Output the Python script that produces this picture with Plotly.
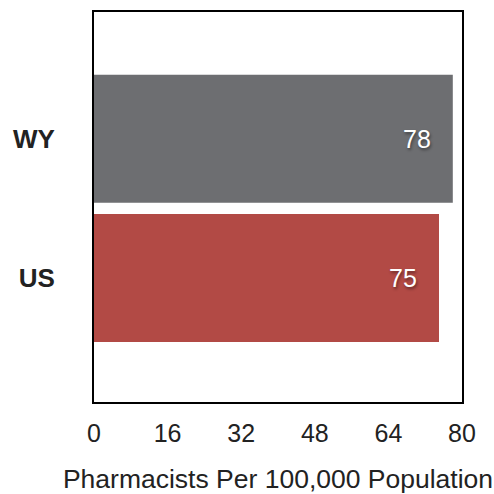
import plotly.graph_objects as go

categories = ["US", "WY"]
values = [75, 78]
bar_colors = ["#b24a45", "#6d6e71"]
x_ticks = [0, 16, 32, 48, 64, 80]
x_title = "Pharmacists Per 100,000 Population"

fig = go.Figure()
fig.add_trace(go.Bar(
    x=values,
    y=[0, 1],
    orientation="h",
    width=0.92,
    marker=dict(color=bar_colors, line=dict(width=0)),
    hoverinfo="skip",
))

for v, i in zip(values, [0, 1]):
    fig.add_annotation(
        x=v, y=i, text=str(v), showarrow=False,
        xanchor="right", xshift=-20,
        font=dict(family="Liberation Sans, Arial, sans-serif", size=25, color="white",
                  shadow="1px 2px 3px rgba(0,0,0,0.45)"),
    )

fig.update_layout(
    width=494, height=494,
    margin=dict(l=94, r=32, t=12, b=92, autoexpand=False),
    paper_bgcolor="white", plot_bgcolor="white",
    showlegend=False,
    font=dict(family="Liberation Sans, Arial, sans-serif", color="#222222"),
)
fig.update_xaxes(
    range=[0, 80], tickvals=x_ticks, ticktext=[str(t) for t in x_ticks],
    showgrid=False, zeroline=False, automargin=False,
    showline=True, mirror=True, linecolor="black", linewidth=2,
    ticks="", ticklabelstandoff=8,
    tickfont=dict(size=25, color="#222222"),
    title=dict(text=x_title, font=dict(size=26.5, color="#222222"), standoff=28),
)
fig.update_yaxes(
    range=[-0.89, 1.91], tickvals=[0, 1], ticktext=categories,
    showgrid=False, zeroline=False, automargin=False,
    showline=True, mirror=True, linecolor="black", linewidth=2,
    ticks="", ticklabelstandoff=32,
    tickfont=dict(size=26, color="#222222", weight="bold"),
)

fig.write_html("out.html")
